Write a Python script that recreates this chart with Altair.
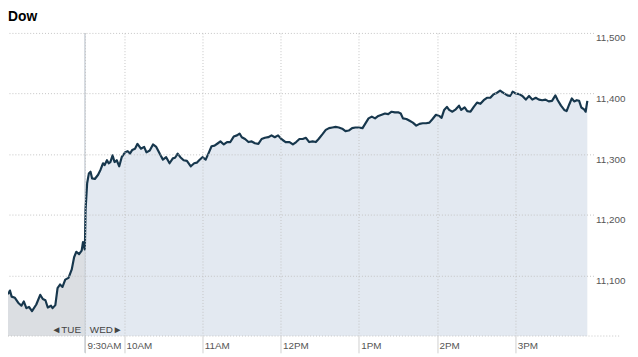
import altair as alt
import pandas as pd

# Minutes relative to 9:30 (negative = previous session, Tuesday's last hour)
tue_minutes = [-59, -57.5, -56.2, -53.7, -51.2, -48.7, -46.9, -44.9, -42.9, -40.6, -37.3, -34.3,
               -32.3, -30.3, -28.5, -26.0, -24.8, -22.7, -21.0, -19.1, -17.2, -15.1, -12.6, -10.1,
               -8.3, -6.6, -4.5, -2.5, -1.5, -0.2]
tue_values = [11069, 11075, 11065, 11063, 11055, 11050, 11057, 11046, 11048, 11041, 11052, 11068,
              11061, 11059, 11047, 11050, 11046, 11051, 11079, 11085, 11081, 11093, 11096, 11110,
              11130, 11139, 11135, 11141, 11155, 11143]

wed_minutes = [0, 0.5, 1.7, 3.0, 4.3, 5.5, 7.6, 10.1, 11.9, 13.9, 15.1, 16.9, 18.2, 19.5, 21.2, 22.7,
               24.4, 26.3, 28.2, 30.8, 32.8, 34.6, 36.3, 38.4, 40.3, 42.9, 45.4, 47.2, 49.7, 52.2,
               54.7, 57.3, 59.8, 62.3, 64.9, 67.4, 69.1, 71.1, 73.2, 75.7, 78.2, 81.2, 83.8, 85.8,
               87.6, 90.1, 92.6, 95.1, 97.1, 99.4, 102.0, 103.9, 106.5, 109.0, 111.5, 114.1, 116.6,
               118.6, 120.3, 122.8, 125.4, 127.9, 130.4, 133.0, 135.5, 138.0, 140.6, 143.1, 145.6,
               148.1, 150.6, 153.9, 156.9, 159.5, 162.0, 164.5, 167.0, 169.5, 172.0, 174.6, 177.1,
               179.2, 182.2, 184.7, 187.2, 189.8, 192.3, 194.7, 197.3, 199.8, 202.3, 204.9, 207.4,
               209.9, 212.9, 214.9, 217.5, 220.0, 222.5, 225.0, 227.6, 230.1, 232.6, 235.2, 237.7,
               240.2, 242.2, 243.9, 246.5, 249.0, 251.5, 254.1, 256.6, 259.1, 261.7, 264.2, 266.6,
               269.2, 271.7, 273.5, 275.5, 277.6, 279.3, 281.8, 284.4, 286.9, 288.6, 291.2, 293.2,
               295.7, 298.2, 300.7, 303.3, 305.8, 308.3, 310.9, 313.4, 315.9, 318.4, 320.9, 324.0,
               326.0, 328.0, 330.5, 333.0, 335.5, 338.1, 340.6, 343.1, 345.7, 348.2, 350.7, 353.2,
               355.7, 358.2, 360.8, 362.6, 365.1, 367.6, 369.4, 371.4, 373.4, 375.2, 377.2, 379.0,
               380.7, 382.8, 384.0, 385.3]
wed_values = [11150, 11209, 11252, 11268, 11271, 11260, 11259, 11266, 11274, 11285, 11282, 11290,
              11285, 11287, 11298, 11287, 11290, 11280, 11295, 11303, 11305, 11301, 11307, 11309,
              11317, 11309, 11312, 11303, 11306, 11316, 11312, 11301, 11291, 11295, 11285, 11293,
              11294, 11301, 11295, 11290, 11289, 11280, 11285, 11286, 11290, 11295, 11291, 11303,
              11313, 11314, 11318, 11321, 11316, 11320, 11320, 11329, 11331, 11334, 11328, 11325,
              11320, 11321, 11318, 11317, 11325, 11327, 11328, 11331, 11328, 11331, 11325, 11320,
              11320, 11316, 11320, 11325, 11325, 11327, 11320, 11321, 11320, 11325, 11333, 11340,
              11343, 11344, 11345, 11344, 11342, 11338, 11339, 11343, 11344, 11344, 11343, 11350,
              11359, 11362, 11359, 11363, 11365, 11367, 11366, 11370, 11369, 11369, 11367, 11359,
              11358, 11355, 11352, 11347, 11350, 11351, 11351, 11352, 11358, 11365, 11363, 11360,
              11373, 11378, 11373, 11370, 11374, 11380, 11373, 11377, 11371, 11370, 11378, 11385,
              11383, 11389, 11393, 11393, 11399, 11401, 11405, 11401, 11397, 11396, 11403, 11400,
              11399, 11396, 11390, 11396, 11390, 11393, 11390, 11389, 11390, 11387, 11388, 11397,
              11389, 11380, 11373, 11371, 11382, 11392, 11387, 11389, 11388, 11377, 11374, 11370,
              11388]

tick_minutes = [0, 30, 90, 150, 210, 270, 330]
tick_labels = ["9:30AM", "10AM", "11AM", "12PM", "1PM", "2PM", "3PM"]
y_ticks = [11100, 11200, 11300, 11400, 11500]
session_names = ["TUE", "WED"]
session_fills = ["#dbdee2", "#e3e9f1"]
title_text = ["Dow"]

df = pd.DataFrame({
    "t": tue_minutes + wed_minutes,
    "v": tue_values + wed_values,
    "session": ["TUE"] * len(tue_minutes) + ["WED"] * len(wed_minutes),
})

label_expr = "".join(
    f"datum.value == {m} ? '{l}' : " for m, l in zip(tick_minutes, tick_labels)
) + "''"

FONT = "Liberation Sans"

x_scale = alt.Scale(domain=[-59, 390], nice=False, zero=False)
y_scale = alt.Scale(domain=[11000, 11500], nice=False, zero=False)

x_axis = alt.Axis(
    values=tick_minutes, labelExpr=label_expr, title=None, domain=False,
    grid=True, gridColor="#c4c4c4", gridDash=[1, 2], gridWidth=1,
    ticks=True, tickSize=17, tickColor="#cfcfcf", tickWidth=1,
    labelAlign="left", labelBaseline="alphabetic", labelPadding=-4, labelOffset=2,
    labelFont=FONT, labelFontSize=10, labelColor="#555555", zindex=1,
)
y_axis = alt.Axis(
    values=y_ticks, format=",.0f", title=None, orient="right", domain=False, ticks=False,
    grid=True, gridColor="#c4c4c4", gridDash=[1, 2], gridWidth=1,
    labelAlign="left", labelBaseline="top", labelPadding=2,
    labelFont=FONT, labelFontSize=10, labelColor="#555555", zindex=1,
)

base = alt.Chart(df)

area = base.mark_area(clip=True).encode(
    x=alt.X("t:Q", scale=x_scale, axis=x_axis),
    y=alt.Y("v:Q", scale=y_scale, axis=y_axis, stack=None),
    y2=alt.datum(11000),
    color=alt.Color("session:N", scale=alt.Scale(domain=session_names, range=session_fills), legend=None),
)

line = base.mark_line(color="#17374d", strokeWidth=2.2, strokeJoin="round", clip=True).encode(
    x="t:Q", y="v:Q"
)

separator = alt.Chart(pd.DataFrame({"t": [0]})).mark_rule(color="#cdd3da", strokeWidth=1.5).encode(
    x="t:Q", y=alt.value(0), y2=alt.value(324)
)

bottom_line = alt.Chart(pd.DataFrame({"t": [0]})).mark_rule(
    color="#c4c4c4", strokeDash=[1, 2], strokeWidth=1
).encode(x=alt.value(0), x2=alt.value(620), y=alt.value(307))

sess_df = pd.DataFrame({"t": [0, 0], "label": ["◄TUE", "WED►"], "session": session_names})
tue_text = alt.Chart(sess_df[sess_df.session == "TUE"]).mark_text(
    align="right", baseline="middle", dx=-4, font=FONT, fontSize=10, color="#444444"
).encode(x="t:Q", y=alt.value(301), text="label:N")
wed_text = alt.Chart(sess_df[sess_df.session == "WED"]).mark_text(
    align="left", baseline="middle", dx=5, font=FONT, fontSize=10, color="#444444"
).encode(x="t:Q", y=alt.value(301), text="label:N")

title_mark = alt.Chart(pd.DataFrame({"label": title_text})).mark_text(
    align="left", baseline="alphabetic", font=FONT, fontSize=14, fontWeight="bold", color="#000000"
).encode(x=alt.value(0), y=alt.value(-12), text="label:N")

chart = alt.layer(area, separator, line, bottom_line, tue_text, wed_text, title_mark).properties(
    width=593, height=307,
    background="white",
    autosize=alt.AutoSizeParams(type="none"),
    padding={"top": 23, "left": 0, "right": 37, "bottom": 19},
).configure_view(stroke=None)

chart.save("out.html", embed_options={"renderer": "svg", "actions": False})
